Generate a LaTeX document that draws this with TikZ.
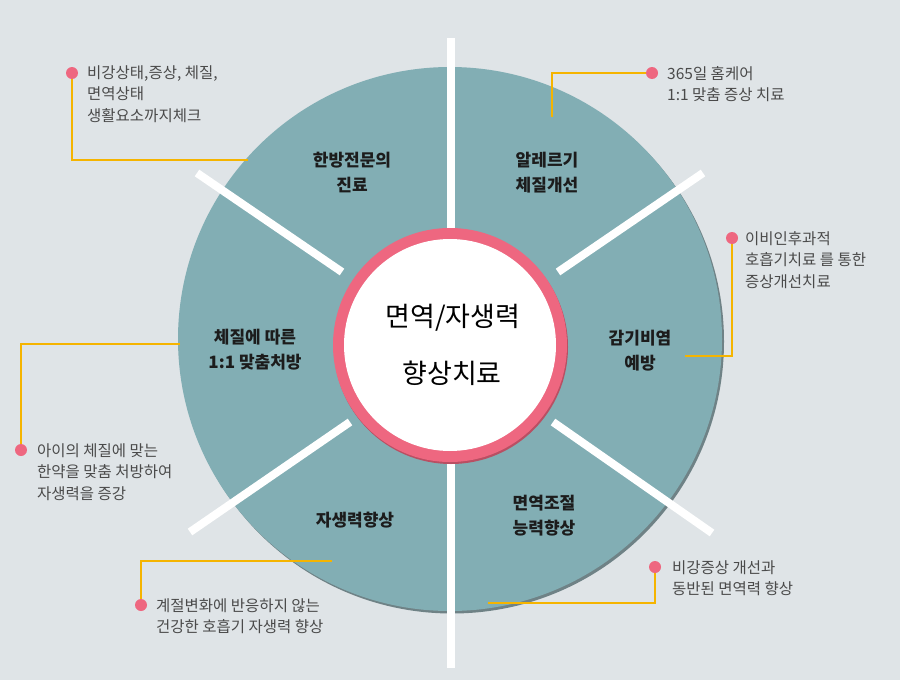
\documentclass[tikz,border=0pt]{standalone}
\usepackage{fontspec}
\newfontfamily\kr{Noto Sans CJK KR}
\usetikzlibrary{positioning}
\definecolor{bgcol}{HTML}{DFE4E7}
\definecolor{circlecol}{HTML}{82AEB4}
\definecolor{rimcol}{HTML}{6F8286}
\definecolor{ringcol}{HTML}{EE6780}
\definecolor{ringrim}{HTML}{B94F63}
\definecolor{dotcol}{HTML}{EE6780}
\definecolor{leadcol}{HTML}{F5B400}
\definecolor{notecol}{HTML}{4A4A4A}
\definecolor{labelcol}{HTML}{1C1C1C}
\tikzset{
  sector/.style={align=center, inner sep=0pt, text=labelcol,
    font=\kr\bfseries\fontsize{17}{25}\selectfont},
  note/.style={anchor=base west, align=left, inner sep=0pt, text=notecol,
    font=\kr\fontsize{15.5}{21.5}\selectfont},
  pinkdot/.style={circle, fill=dotcol, inner sep=0pt, minimum size=12pt},
  leader/.style={draw=leadcol, line width=1.2pt},
  divider/.style={draw=white, line width=8pt},
}
\begin{document}
\begin{tikzpicture}[x=1pt,y=-1pt]
  \fill[bgcol] (0,0) rectangle (900,680);
  \useasboundingbox (0,0) rectangle (900,680);
  % outer circle
  \fill[rimcol] (452,341.5) circle[radius=272pt];
  \fill[circlecol] (450,339) circle[radius=272pt];
  \draw[divider] (450.5,38) -- (450.5,668);
  \draw[divider] (197,173) -- (342,272);
  \draw[divider] (703,173) -- (558,272);
  \draw[divider] (190,532) -- (350,422);
  \draw[divider] (712,533) -- (553,422);
  % centre
  \fill[ringrim] (451,347) circle[radius=117pt];
  \fill[ringcol] (450,345) circle[radius=117pt];
  \node[circle, fill=white, minimum size=212pt] (core) at (450,345) {};
  \node[font=\kr\fontsize{27}{30}\selectfont] (title1) at (453,318) {면역/자생력};
  \node[font=\kr\fontsize{27}{30}\selectfont] (title2) at (452,373) {향상치료};
  % sectors
  \node[sector] (s1) at (352,173) {한방전문의\\진료};
  \node[sector] (s2) at (547,173) {알레르기\\체질개선};
  \node[sector] (s3) at (640,351) {감기비염\\예방};
  \node[sector] (s4) at (255,350) {체질에 따른\\1:1 맞춤처방};
  \node[sector] (s5) at (355,520) {자생력향상};
  \node[sector] (s6) at (544,516) {면역조절\\능력향상};
  % notes
  \node[pinkdot] (d1) at (72,73) {};
  \node[pinkdot] (d2) at (652,73) {};
  \node[pinkdot] (d3) at (732,238) {};
  \node[pinkdot] (d4) at (21,450) {};
  \node[pinkdot] (d5) at (141,605) {};
  \node[pinkdot] (d6) at (655,567) {};
  \coordinate (e1) at (248,160);
  \coordinate (e2) at (552,117);
  \coordinate (e3) at (685,356);
  \coordinate (e4) at (180,344);
  \coordinate (e5) at (332,561);
  \coordinate (e6) at (488,603);
  \draw[leader] (d1.south) |- (e1);
  \draw[leader] (d2.west) -| (e2);
  \draw[leader] (d3.south) |- (e3);
  \draw[leader] (d4.north) |- (e4);
  \draw[leader] (d5.north) |- (e5);
  \draw[leader] (d6.south) |- (e6);
  % base = last line
  \node[note] (n1) at (87,121) {비강상태,증상, 체질,\\면역상태\\생활요소까지체크};
  \node[note] (n2) at (667,100.5) {365일 홈케어\\1:1 맞춤 증상 치료};
  \node[note] (n3) at (745,287) {이비인후과적\\호흡기치료 를 통한\\증상개선치료};
  \node[note] (n4) at (37,499) {아이의 체질에 맞는\\한약을 맞춤 처방하여\\자생력을 증강};
  \node[note] (n5) at (156,632.5) {계절변화에 반응하지 않는\\건강한 호흡기 자생력 향상};
  \node[note] (n6) at (672,594.5) {비강증상 개선과\\동반된 면역력 향상};
\end{tikzpicture}
\end{document}
